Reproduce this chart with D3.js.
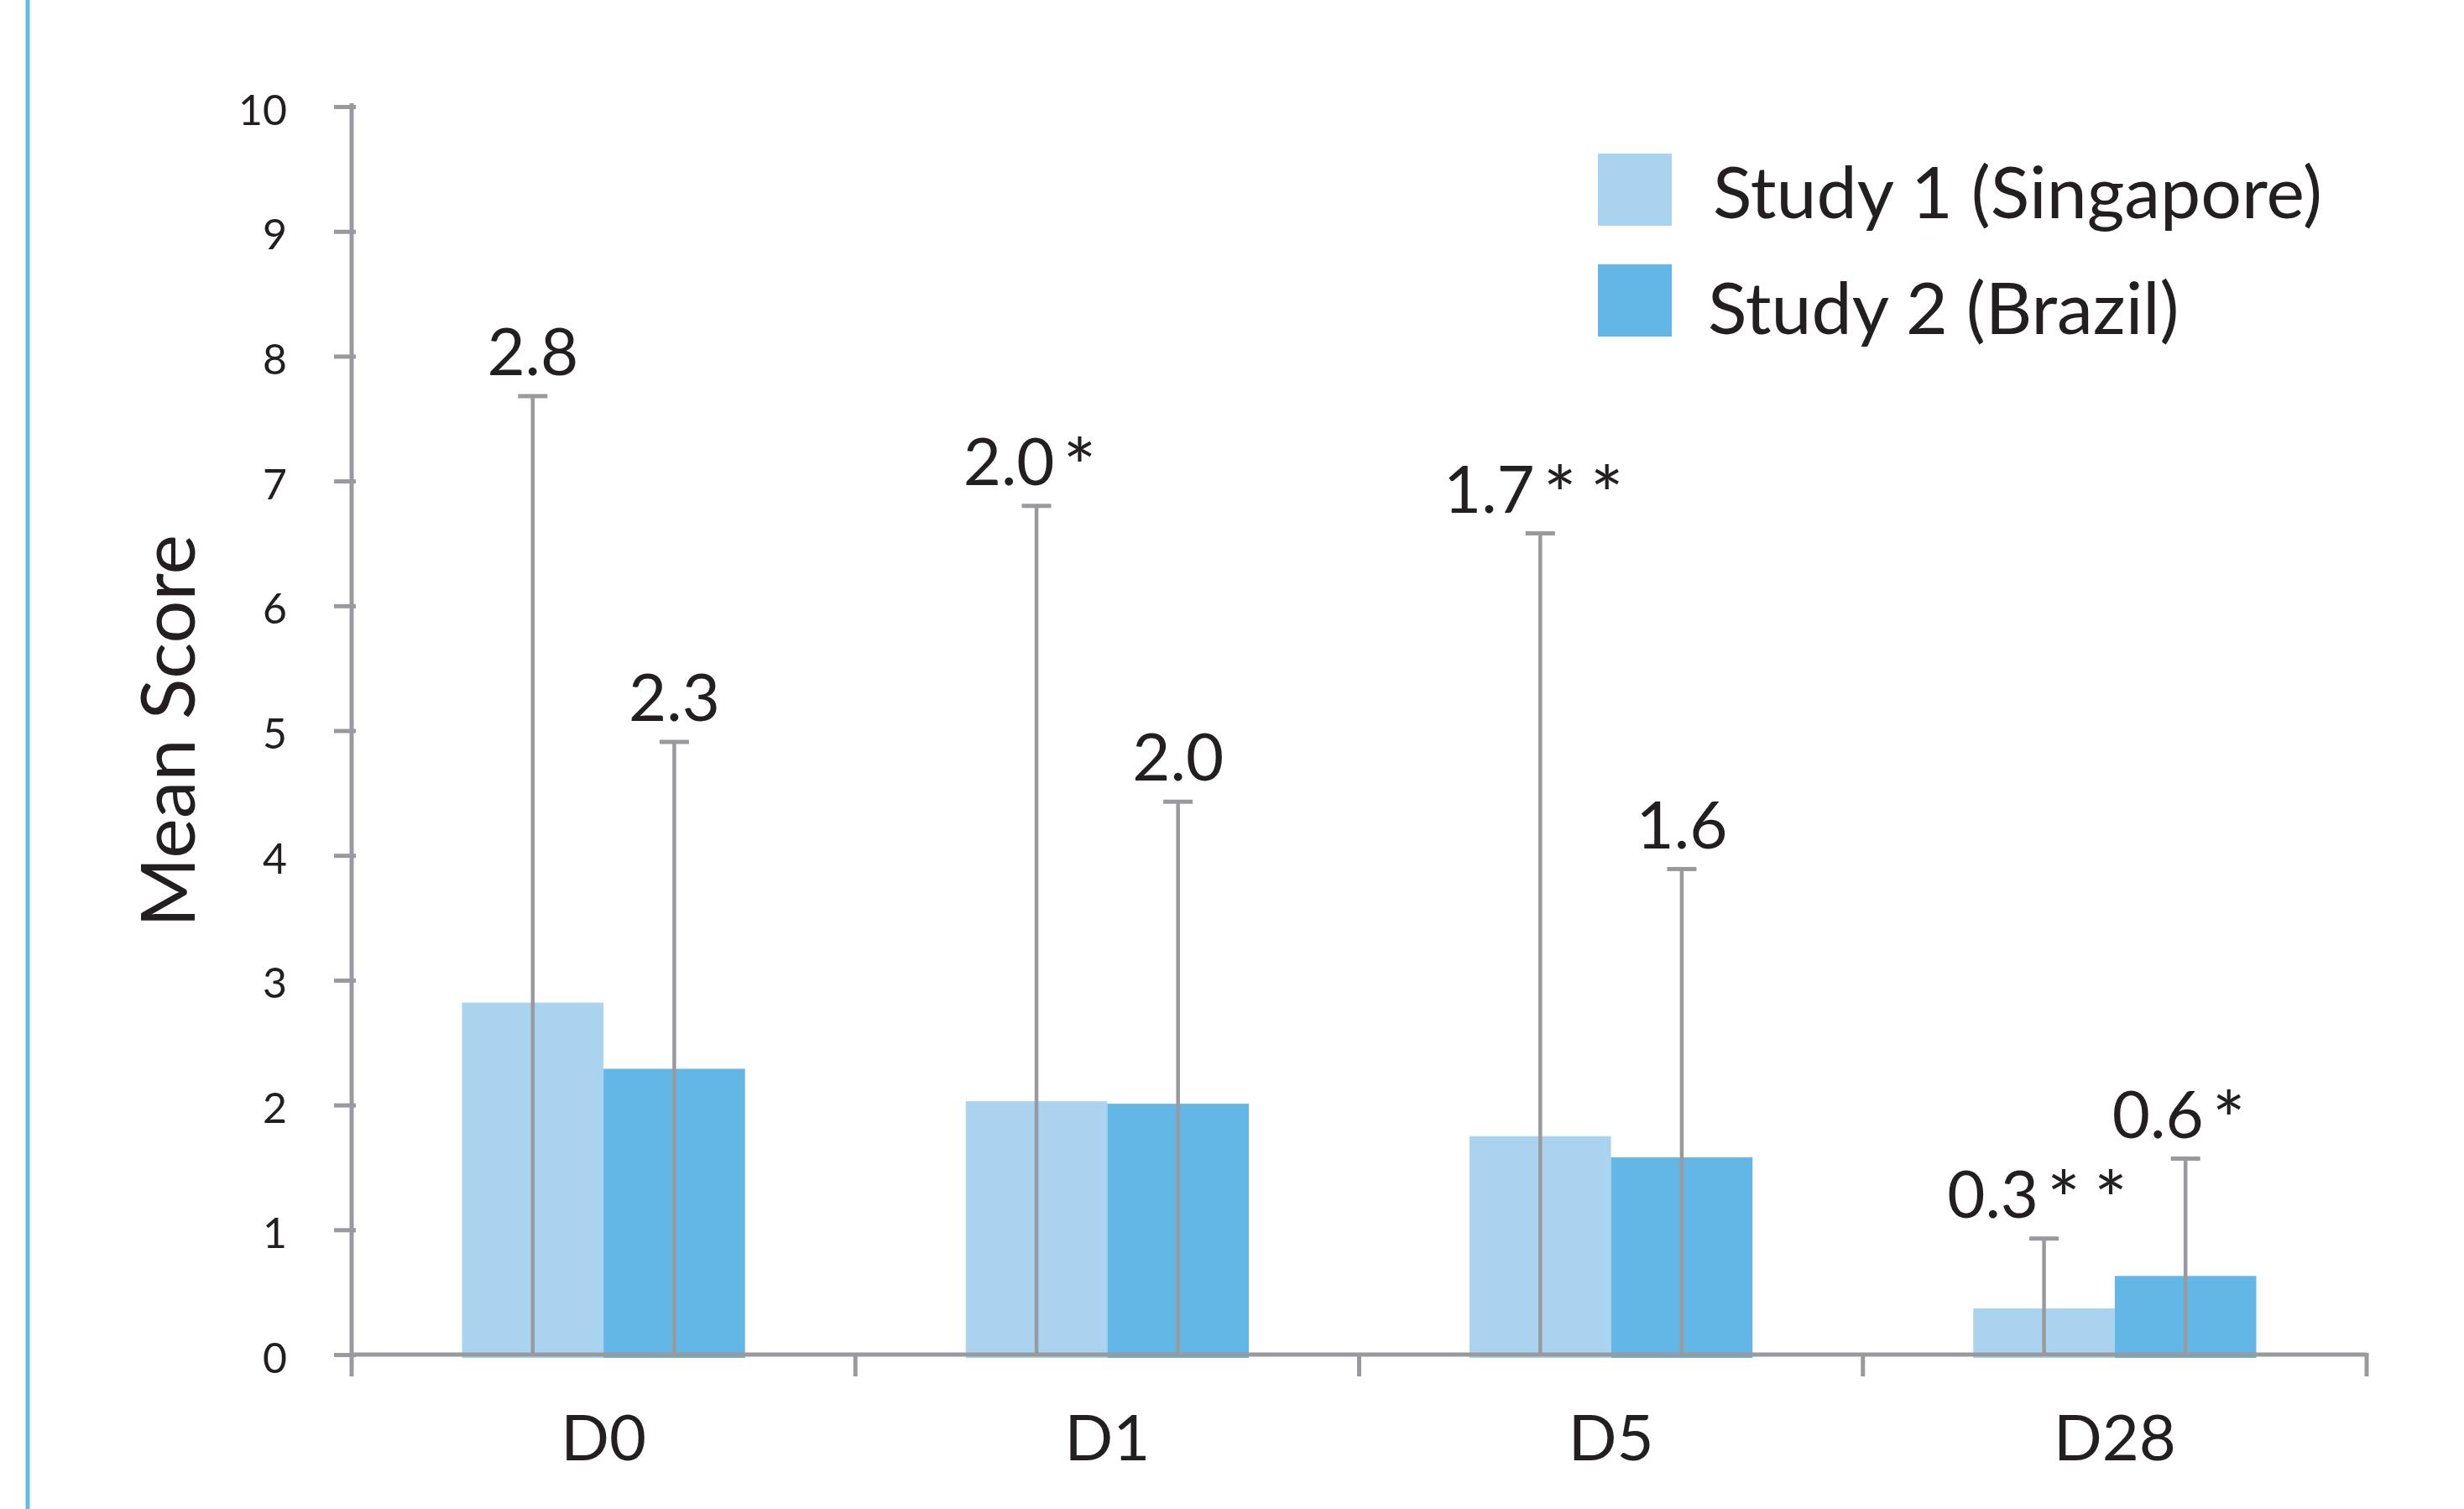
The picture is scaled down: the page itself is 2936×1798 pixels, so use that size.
<!DOCTYPE html>
<html>
<head>
<meta charset="utf-8">
<script src="https://cdn.jsdelivr.net/npm/d3@7"></script>
<style>
  body { margin: 0; background: #fff; }
  text { font-family: Lato, "Open Sans", sans-serif; fill: #231f20; }
</style>
</head>
<body>
<svg id="chart" width="2936" height="1798"></svg>
<script>
(function() {

  var categories = ["D0", "D1", "D5", "D28"];
  var series = ["Study 1 (Singapore)", "Study 2 (Brazil)"];

  var study1Means = [2.82, 2.03, 1.75, 0.37];
  var study2Means = [2.29, 2.01, 1.58, 0.63];
  var study1Upper = [7.68, 6.80, 6.58, 0.93];
  var study2Upper = [4.91, 4.43, 3.89, 1.57];
  var study1Labels = ["2.8", "2.0*", "1.7**", "0.3**"];
  var study2Labels = ["2.3", "2.0", "1.6", "0.6*"];

  var yTicks = [0, 1, 2, 3, 4, 5, 6, 7, 8, 9, 10];

  var COLORS = ["#a9d3ee", "#63b7e6"];
  var GREY = "#999a9e";

  var svg = d3.select("#chart");

  // blue rule down the left edge
  svg.append("line")
    .attr("x1", 33).attr("x2", 33)
    .attr("y1", 0).attr("y2", 1798)
    .attr("stroke", "#5cbde9")
    .attr("stroke-width", 5);

  var left = 419, right = 2820, top = 127, bottom = 1614;

  var x = d3.scaleBand().domain(categories).range([left, right]);
  var x1 = d3.scaleBand().domain(series).range([0, x.bandwidth()]).paddingOuter(0.78);
  var y = d3.scaleLinear().domain([0, 10]).range([bottom, top]);

  var rows = categories.map(function(c, i) {
    return [
      {cat : c, s : series[0], mean : study1Means[i], upper : study1Upper[i], label : study1Labels[i]},
      {cat : c, s : series[1], mean : study2Means[i], upper : study2Upper[i], label : study2Labels[i]}
    ];
  });
  var flat = [].concat.apply([], rows);

  // bars
  svg.append("g").selectAll("rect")
    .data(flat)
    .enter().append("rect")
    .attr("x", d => x(d.cat) + x1(d.s))
    .attr("width", x1.bandwidth())
    .attr("y", d => y(d.mean))
    .attr("height", d => y(0) - y(d.mean) + 4)
    .attr("fill", d => COLORS[series.indexOf(d.s)]);

  // y axis
  var yAxis = svg.append("g")
    .attr("transform", "translate(" + left + ",0)")
    .call(d3.axisLeft(y).tickValues(yTicks).tickSize(21).tickPadding(56));
  yAxis.select(".domain").attr("stroke", GREY).attr("stroke-width", 5)
    .attr("d", "M0," + (top - 4) + "V" + (bottom + 26));
  yAxis.selectAll(".tick line").attr("stroke", GREY).attr("stroke-width", 5).attr("x1", 5);
  yAxis.selectAll(".tick text")
    .attr("font-size", 50)
    .attr("dy", "0.42em")
    .style("fill", "#231f20");

  // x axis
  var xAxis = svg.append("g")
    .attr("transform", "translate(0," + bottom + ")")
    .call(d3.axisBottom(x).tickSize(0).tickPadding(72));
  xAxis.select(".domain").attr("stroke", GREY).attr("stroke-width", 5)
    .attr("d", "M" + left + ",0H" + right);
  xAxis.selectAll(".tick text")
    .attr("font-size", 76)
    .attr("dy", "0.71em")
    .style("fill", "#231f20");

  var boundaries = categories.map(c => x(c)).concat([x.range()[1]]);
  svg.append("g").selectAll("line")
    .data(boundaries.slice(1))
    .enter().append("line")
    .attr("x1", d => d).attr("x2", d => d)
    .attr("y1", bottom - 2).attr("y2", bottom + 26)
    .attr("stroke", GREY).attr("stroke-width", 5);

  // error bars
  var err = svg.append("g").selectAll("g")
    .data(flat)
    .enter().append("g")
    .attr("transform", d => "translate(" + (x(d.cat) + x1(d.s) + x1.bandwidth() / 2) + ",0)");

  err.append("line")
    .attr("y1", y(0)).attr("y2", d => y(d.upper))
    .attr("stroke", GREY).attr("stroke-width", 4.5);
  err.append("line")
    .attr("x1", -17.5).attr("x2", 17.5)
    .attr("y1", d => y(d.upper)).attr("y2", d => y(d.upper))
    .attr("stroke", GREY).attr("stroke-width", 5);

  var labels = err.append("text")
    .attr("y", d => y(d.upper) - 25)
    .attr("text-anchor", "middle")
    .attr("font-size", 78);
  labels.append("tspan")
    .text(d => d.label.replace(/\*/g, ""));
  labels.append("tspan")
    .attr("font-size", 94)
    .attr("dx", 10)
    .attr("dy", 12)
    .attr("letter-spacing", 16)
    .text(d => d.label.replace(/[^*]/g, ""));

  // y title
  svg.append("text")
    .attr("transform", "translate(232,871) rotate(-90)")
    .attr("text-anchor", "middle")
    .attr("font-size", 90)
    .text("Mean Score");

  // legend
  var legend = svg.append("g").selectAll("g")
    .data(series)
    .enter().append("g")
    .attr("transform", (d, i) => "translate(1904," + [183, 315][i] + ")");
  legend.append("rect")
    .attr("width", 88).attr("height", 86)
    .attr("fill", (d, i) => COLORS[i]);
  legend.append("text")
    .attr("x", (d, i) => [137, 131][i])
    .attr("y", (d, i) => [77, 83][i])
    .attr("font-size", 86)
    .text(d => d);

})();
</script>
</body>
</html>
